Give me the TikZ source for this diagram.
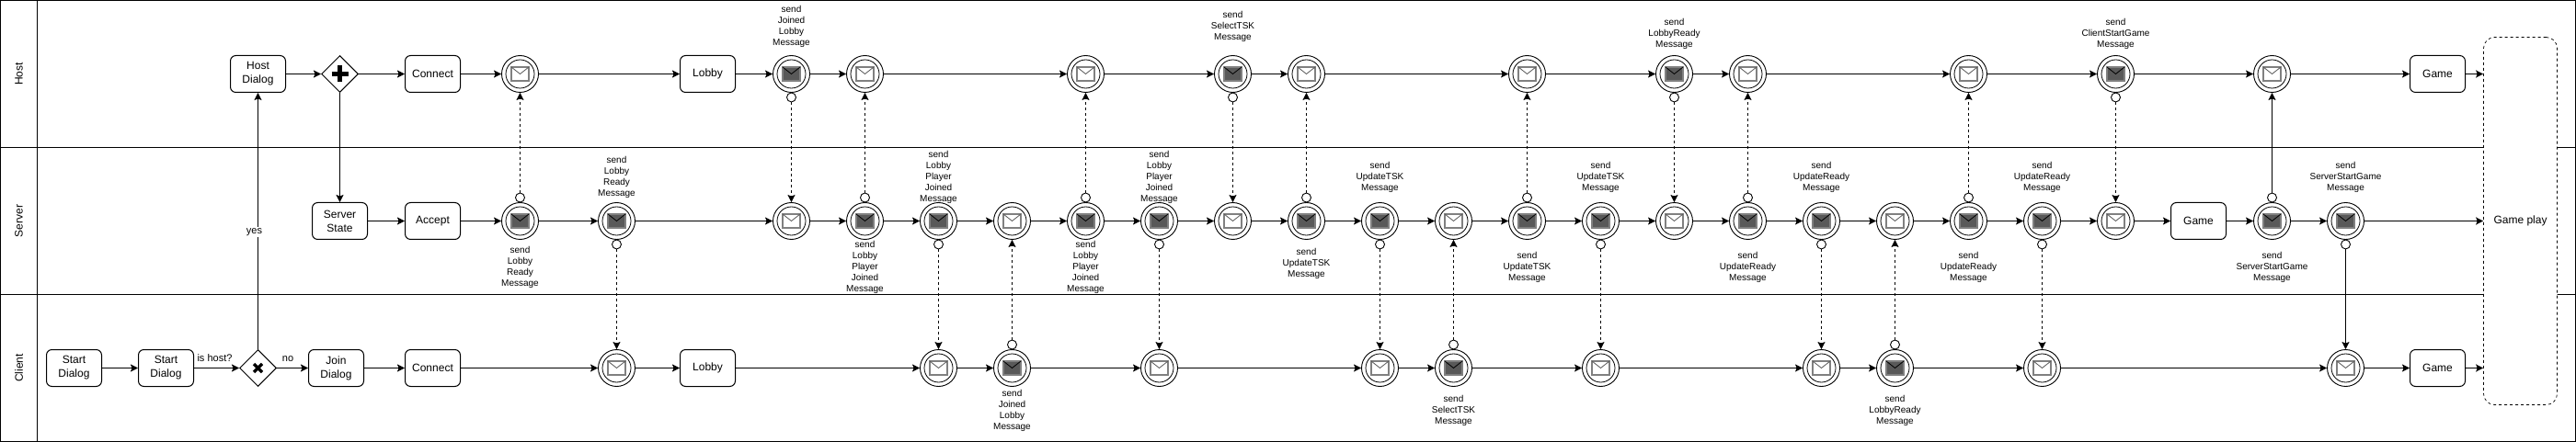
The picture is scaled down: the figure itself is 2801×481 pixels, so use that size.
\documentclass[tikz,border=0pt]{standalone}
\usepackage{fontspec}
\setmainfont{Liberation Sans}
\usetikzlibrary{arrows.meta,calc,shapes.geometric}
\definecolor{envdark}{HTML}{595959}
\definecolor{envedge}{HTML}{808080}
\tikzset{
  flow/.style={line width=1pt,-{Stealth[length=8pt,width=8pt,inset=1.5pt]}},
  vflow/.style={flow,line width=0.8pt},
  msgflow/.style={flow,line width=0.8pt,dash pattern=on 3pt off 3pt},
  task/.style={draw,line width=1pt,rounded corners=6pt,minimum width=60pt,minimum height=40pt,inner sep=0pt,align=center,fill=white,font=\fontsize{12}{15}\selectfont},
  gate/.style={draw,diamond,aspect=1,line width=1pt,fill=white,inner sep=0pt,minimum size=40pt},
  event/.style={draw,circle,line width=0.9pt,minimum size=40pt,inner sep=0pt,fill=white},
  attach/.style={draw,circle,line width=0.9pt,minimum size=10pt,inner sep=0pt,fill=white},
  msg/.style={align=center,inner sep=0pt,font=\fontsize{10}{12}\selectfont},
  edgelab/.style={inner sep=1pt,font=\fontsize{11}{13}\selectfont},
  lane/.style={line width=1pt},
  lanelab/.style={rotate=90,inner sep=0pt,font=\fontsize{12}{15}\selectfont},
}
\newcommand{\EvS}[3]{%
  \node[event] (#1) at (#2,#3) {};
  \draw[line width=0.8pt] (#1.center) circle[radius=15.5pt];
  \draw[line width=1.4pt,draw=envedge,fill=envdark] ($(#1.center)+(-9.5pt,-7.5pt)$) rectangle ($(#1.center)+(9.5pt,7.5pt)$);
  \draw[line width=0.8pt,draw=black] ($(#1.center)+(-9.5pt,7.5pt)$) -- (#1.center) -- ($(#1.center)+(9.5pt,7.5pt)$);
}
\newcommand{\EvR}[3]{%
  \node[event] (#1) at (#2,#3) {};
  \draw[line width=0.8pt] (#1.center) circle[radius=15.5pt];
  \draw[line width=1.4pt,draw=envedge,fill=white] ($(#1.center)+(-9.5pt,-7.5pt)$) rectangle ($(#1.center)+(9.5pt,7.5pt)$);
  \draw[line width=0.8pt,draw=envdark] ($(#1.center)+(-9.5pt,7.5pt)$) -- (#1.center) -- ($(#1.center)+(9.5pt,7.5pt)$);
}
\newcommand{\AttT}[1]{\node[attach] (#1t) at ($(#1.north)+(0pt,5pt)$) {};}
\newcommand{\AttB}[1]{\node[attach] (#1b) at ($(#1.south)+(0pt,-5pt)$) {};}
\begin{document}
\begin{tikzpicture}[x=1pt,y=-1pt]
\useasboundingbox (0,0) rectangle (2801,481);
\begin{scope}[shift={(0.5,0.5)}]
% lanes
\draw[lane] (0,0) rectangle (2800,480);
\draw[lane] (0,160) -- (2800,160);
\draw[lane] (0,320) -- (2800,320);
\draw[lane] (40,0) -- (40,480);
\node[lanelab] (lhost) at (20,80) {Host};
\node[lanelab] (lserver) at (20,240) {Server};
\node[lanelab] (lclient) at (20,400) {Client};

% tasks
\node[task] (start1) at (80,400) {Start\\Dialog};
\node[task] (start2) at (180,400) {Start\\Dialog};
\node[task] (join) at (365,400) {Join\\Dialog};
\node[task] (cconnect) at (470,400) {Connect};
\node[task] (clobby) at (769,400) {Lobby};
\node[task] (cgame) at (2650,400) {Game};
\node[task] (hdialog) at (280,80) {Host\\Dialog};
\node[task] (hconnect) at (470,80) {Connect};
\node[task] (hlobby) at (769,80) {Lobby};
\node[task] (hgame) at (2650,80) {Game};
\node[task] (sstate) at (369,240) {Server\\State};
\node[task] (accept) at (470,240) {Accept};
\node[task] (sgame) at (2390,240) {Game};
\node[task,line width=0.7pt,dash pattern=on 3pt off 3pt,minimum width=80pt,minimum height=400pt,rounded corners=12pt] (play) at (2740,240) {Game play};

% gateways
\node[gate] (gx) at (280,400) {};
\draw[line width=3.4pt] ($(gx.center)+(-4.5pt,-4.5pt)$) -- ($(gx.center)+(4.5pt,4.5pt)$) ($(gx.center)+(-4.5pt,4.5pt)$) -- ($(gx.center)+(4.5pt,-4.5pt)$);
\node[gate] (gp) at (369,80) {};
\draw[line width=4.2pt] ($(gp.center)+(-9pt,0pt)$) -- ($(gp.center)+(9pt,0pt)$) ($(gp.center)+(0pt,-9pt)$) -- ($(gp.center)+(0pt,9pt)$);

% host events
\EvR{h565}{565}{80}\EvS{h860}{860}{80}\EvR{h940}{940}{80}\EvR{h1180}{1180}{80}
\EvS{h1340}{1340}{80}\EvR{h1420}{1420}{80}\EvR{h1660}{1660}{80}\EvS{h1820}{1820}{80}
\EvR{h1900}{1900}{80}\EvR{h2140}{2140}{80}\EvS{h2300}{2300}{80}\EvR{h2470}{2470}{80}
% server events
\EvS{s565}{565}{240}\EvS{s670}{670}{240}\EvR{s860}{860}{240}\EvS{s940}{940}{240}
\EvS{s1020}{1020}{240}\EvR{s1100}{1100}{240}\EvS{s1180}{1180}{240}\EvS{s1260}{1260}{240}
\EvR{s1340}{1340}{240}\EvS{s1420}{1420}{240}\EvS{s1500}{1500}{240}\EvR{s1580}{1580}{240}
\EvS{s1660}{1660}{240}\EvS{s1740}{1740}{240}\EvR{s1820}{1820}{240}\EvS{s1900}{1900}{240}
\EvS{s1980}{1980}{240}\EvR{s2060}{2060}{240}\EvS{s2140}{2140}{240}\EvS{s2220}{2220}{240}
\EvR{s2300}{2300}{240}\EvS{s2470}{2470}{240}\EvS{s2550}{2550}{240}
% client events
\EvR{c670}{670}{400}\EvR{c1020}{1020}{400}\EvS{c1100}{1100}{400}\EvR{c1260}{1260}{400}
\EvR{c1500}{1500}{400}\EvS{c1580}{1580}{400}\EvR{c1740}{1740}{400}\EvR{c1980}{1980}{400}
\EvS{c2060}{2060}{400}\EvR{c2220}{2220}{400}\EvR{c2550}{2550}{400}

% attached circles
\foreach \n in {s565,s940,s1180,s1420,s1660,s1900,s2140,s2470,c1100,c1580,c2060}{\AttT{\n}}
\foreach \n in {s670,h860,s1020,s1260,h1340,s1500,s1740,h1820,s1980,s2220,h2300,s2550}{\AttB{\n}}

% sequence flows: client
\draw[flow] (start1) -- (start2);
\draw[flow] (start2) -- (gx.west);
\draw[flow] (gx.east) -- (join);
\draw[flow] (join) -- (cconnect);
\foreach \a/\b in {cconnect/c670,c670/clobby,clobby/c1020,c1020/c1100,c1100/c1260,c1260/c1500,c1500/c1580,c1580/c1740,c1740/c1980,c1980/c2060,c2060/c2220,c2220/c2550,c2550/cgame}{\draw[flow] (\a) -- (\b);}
\draw[flow] (cgame.east) -- (cgame.east -| play.west);
% host
\draw[flow] (hdialog) -- (gp.west);
\draw[flow] (gp.east) -- (hconnect);
\foreach \a/\b in {hconnect/h565,h565/hlobby,hlobby/h860,h860/h940,h940/h1180,h1180/h1340,h1340/h1420,h1420/h1660,h1660/h1820,h1820/h1900,h1900/h2140,h2140/h2300,h2300/h2470,h2470/hgame}{\draw[flow] (\a) -- (\b);}
\draw[flow] (hgame.east) -- (hgame.east -| play.west);
% server
\draw[flow] (sstate) -- (accept);
\foreach \a/\b in {accept/s565,s565/s670,s670/s860,s860/s940,s940/s1020,s1020/s1100,s1100/s1180,s1180/s1260,s1260/s1340,s1340/s1420,s1420/s1500,s1500/s1580,s1580/s1660,s1660/s1740,s1740/s1820,s1820/s1900,s1900/s1980,s1980/s2060,s2060/s2140,s2140/s2220,s2220/s2300,s2300/sgame,sgame/s2470,s2470/s2550}{\draw[flow] (\a) -- (\b);}
\draw[flow] (s2550.east) -- (s2550.east -| play.west);
% vertical solid flows
\draw[vflow] (gx.north) -- (hdialog.south);
\draw[vflow] (gp.south) -- (sstate.north);
\draw[vflow] (s2470t) -- (h2470.south);
\draw[vflow] (s2550b) -- (c2550.north);
% message flows upward from server
\foreach \a/\b in {s565t/h565.south,s940t/h940.south,s1180t/h1180.south,s1420t/h1420.south,s1660t/h1660.south,s1900t/h1900.south,s2140t/h2140.south}{\draw[msgflow] (\a) -- (\b);}
% host to server
\foreach \a/\b in {h860b/s860.north,h1340b/s1340.north,h1820b/s1820.north,h2300b/s2300.north}{\draw[msgflow] (\a) -- (\b);}
% server to client
\foreach \a/\b in {s670b/c670.north,s1020b/c1020.north,s1260b/c1260.north,s1500b/c1500.north,s1740b/c1740.north,s1980b/c1980.north,s2220b/c2220.north}{\draw[msgflow] (\a) -- (\b);}
% client to server
\foreach \a/\b in {c1100t/s1100.south,c1580t/s1580.south,c2060t/s2060.south}{\draw[msgflow] (\a) -- (\b);}

% edge labels
\node[edgelab] (lishost) at (233,389.5) {is host?};
\node[edgelab] (lno) at (312.5,390) {no};
\node[edgelab,fill=white] (lyes) at (276,252) {yes};

% message labels
\node[msg] (m1) at (565,290) {send\\Lobby\\Ready\\Message};
\node[msg] (m2) at (670,192) {send\\Lobby\\Ready\\Message};
\node[msg] (m3) at (860,28) {send\\Joined\\Lobby\\Message};
\node[msg] (m4) at (940,290) {send\\Lobby\\Player\\Joined\\Message};
\node[msg] (m5) at (1020,192) {send\\Lobby\\Player\\Joined\\Message};
\node[msg] (m6) at (1100,446) {send\\Joined\\Lobby\\Message};
\node[msg] (m7) at (1180,290) {send\\Lobby\\Player\\Joined\\Message};
\node[msg] (m8) at (1260,192) {send\\Lobby\\Player\\Joined\\Message};
\node[msg] (m9) at (1340,28) {send\\SelectTSK\\Message};
\node[msg] (m10) at (1420,286) {send\\UpdateTSK\\Message};
\node[msg] (m11) at (1500,192) {send\\UpdateTSK\\Message};
\node[msg] (m12) at (1580,446) {send\\SelectTSK\\Message};
\node[msg] (m13) at (1660,290) {send\\UpdateTSK\\Message};
\node[msg] (m14) at (1740,192) {send\\UpdateTSK\\Message};
\node[msg] (m15) at (1820,36) {send\\LobbyReady\\Message};
\node[msg] (m16) at (1900,290) {send\\UpdateReady\\Message};
\node[msg] (m17) at (1980,192) {send\\UpdateReady\\Message};
\node[msg] (m18) at (2060,446) {send\\LobbyReady\\Message};
\node[msg] (m19) at (2140,290) {send\\UpdateReady\\Message};
\node[msg] (m20) at (2220,192) {send\\UpdateReady\\Message};
\node[msg] (m21) at (2300,36) {send\\ClientStartGame\\Message};
\node[msg] (m22) at (2470,290) {send\\ServerStartGame\\Message};
\node[msg] (m23) at (2550,192) {send\\ServerStartGame\\Message};
\end{scope}
\end{tikzpicture}
\end{document}
